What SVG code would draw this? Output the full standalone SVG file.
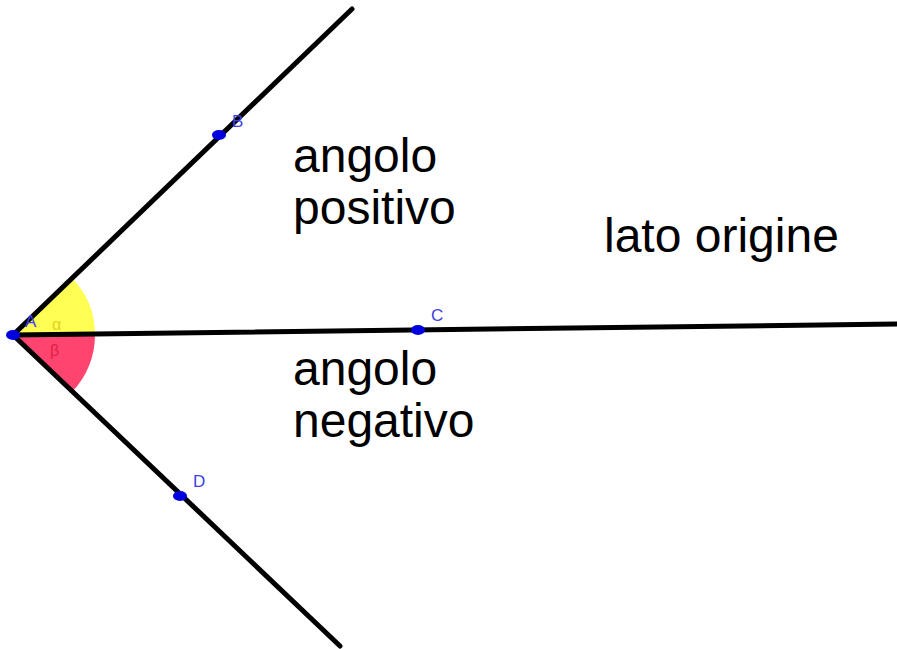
<svg xmlns="http://www.w3.org/2000/svg" width="897" height="649" viewBox="0 0 897 649">
<style>
.ray{stroke:#000;stroke-width:5;stroke-linecap:round;fill:none}
.pt{fill:#0000e0}
.lbl{font-family:"Liberation Sans",Arial,sans-serif;fill:#4040e8;font-size:17px}
.txt{font-family:"Liberation Sans",Arial,sans-serif;fill:#000;font-size:48px}
</style>
<rect width="897" height="649" fill="#fff"/>
<g id="angles">
<path d="M13,335 L95,334 A82,82 0 0 0 72,278 Z" fill="#ffff40" opacity="0.9"/>
<path d="M13,335 L95,334 A82,82 0 0 1 72,392 Z" fill="#ff3060" opacity="0.9"/>
<text x="52" y="330" font-family="Liberation Sans,sans-serif" font-size="16" fill="#e0d020">α</text>
<text x="50" y="356" font-family="Liberation Sans,sans-serif" font-size="16" fill="#e02040">β</text>
</g>
<g id="connectors">
<line class="ray" x1="13" y1="335" x2="352" y2="9"/>
<line class="ray" x1="13" y1="335" x2="897" y2="324"/>
<line class="ray" x1="13" y1="335" x2="340" y2="646"/>
</g>
<g id="A"><ellipse class="pt" cx="13" cy="335" rx="7" ry="5"/><text class="lbl" x="25" y="327">A</text></g>
<g id="B"><ellipse class="pt" cx="219" cy="135" rx="7" ry="5"/><text class="lbl" x="232" y="127">B</text></g>
<g id="C"><ellipse class="pt" cx="418" cy="330" rx="7" ry="5"/><text class="lbl" x="431" y="321">C</text></g>
<g id="D"><ellipse class="pt" cx="180" cy="496" rx="7" ry="5"/><text class="lbl" x="193" y="487">D</text></g>
<g id="texts">
<text class="txt" x="293" y="172">angolo</text>
<text class="txt" x="293" y="224">positivo</text>
<text class="txt" x="604" y="252">lato origine</text>
<text class="txt" x="293" y="385">angolo</text>
<text class="txt" x="293" y="437">negativo</text>
</g>
</svg>
